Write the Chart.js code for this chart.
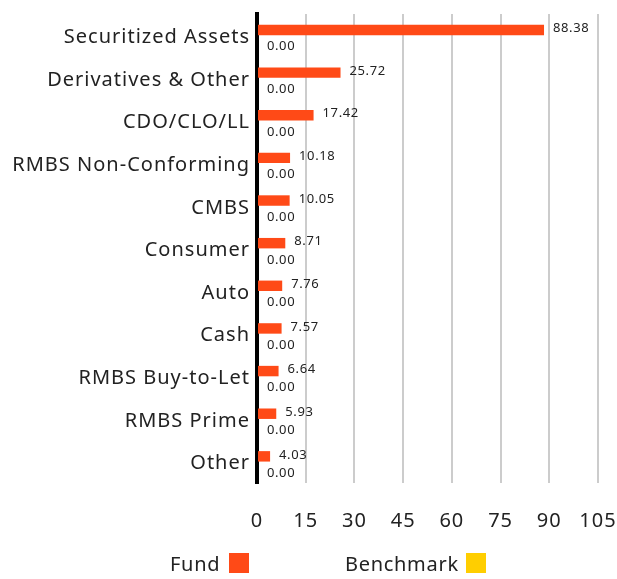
<!DOCTYPE html>
<html>
<head>
<meta charset="utf-8">
<script src="https://cdn.jsdelivr.net/npm/chart.js@4/dist/chart.umd.min.js"></script>
<style>
  html, body { margin: 0; padding: 0; background: #fff; }
  #wrap { position: relative; width: 617px; height: 579px; }
  #c { position: absolute; left: 0; top: 0; }
  .lg { position: absolute; font-family: "Noto Sans", sans-serif; font-size: 20px; letter-spacing: 0.7px; color: #222; line-height: 20px; white-space: nowrap; }
  .sw { position: absolute; width: 20px; height: 20px; }
</style>
</head>
<body>
<div id="wrap">
  <canvas id="c" width="617" height="579"></canvas>
  <div class="lg" id="lgFund" style="left:170px; top:554px;">Fund</div>
  <div class="sw" style="left:229px; top:553px; background:#FF4A17;"></div>
  <div class="lg" id="lgBench" style="left:345px; top:554px;">Benchmark</div>
  <div class="sw" style="left:466px; top:553px; background:#FFCE00;"></div>
</div>
<script>
const categories = ["Securitized Assets", "Derivatives & Other", "CDO/CLO/LL", "RMBS Non-Conforming", "CMBS", "Consumer", "Auto", "Cash", "RMBS Buy-to-Let", "RMBS Prime", "Other"];
const fundValues = [88.38, 25.72, 17.42, 10.18, 10.05, 8.71, 7.76, 7.57, 6.64, 5.93, 4.03];
const benchmarkValues = [0, 0, 0, 0, 0, 0, 0, 0, 0, 0, 0];
const xTicks = [0, 15, 30, 45, 60, 75, 90, 105];

const FONT = '"Noto Sans", sans-serif';

const spacingPlugin = {
  id: 'spacing',
  beforeDraw(chart) { chart.ctx.letterSpacing = '1px'; }
};

const labelPlugin = {
  id: 'valueLabels',
  afterDatasetsDraw(chart) {
    const ctx = chart.ctx;
    ctx.save();
    ctx.letterSpacing = '0.6px';
    ctx.font = '13px ' + FONT;
    ctx.fillStyle = '#222';
    ctx.textAlign = 'left';
    ctx.textBaseline = 'middle';
    chart.data.datasets.forEach((ds, di) => {
      const meta = chart.getDatasetMeta(di);
      meta.data.forEach((bar, i) => {
        const v = ds.data[i];
        const txt = v.toFixed(2);
        if (di === 0) {
          ctx.fillText(txt, bar.x + 9, bar.y - 1.5);
        } else {
          ctx.fillText(txt, bar.x + 10, bar.y + 6);
        }
      });
    });
    ctx.restore();
  }
};

new Chart(document.getElementById('c'), {
  type: 'bar',
  data: {
    labels: categories,
    datasets: [
      { label: 'Fund', data: fundValues, backgroundColor: '#FF4A17', categoryPercentage: 0.5, barPercentage: 0.98 },
      { label: 'Benchmark', data: benchmarkValues, backgroundColor: '#FFCE00', categoryPercentage: 0.5, barPercentage: 0.98 }
    ]
  },
  options: {
    indexAxis: 'y',
    responsive: false,
    animation: false,
    devicePixelRatio: 1,
    layout: { padding: { top: 14, bottom: 20, left: 0, right: 0 } },
    plugins: { legend: { display: false }, tooltip: { enabled: false } },
    scales: {
      x: {
        min: 0, max: 105,
        afterBuildTicks(axis) { axis.ticks = xTicks.map(v => ({ value: v })); },
        afterFit(axis) { axis.paddingRight = 19; axis.paddingLeft = 0; },
        grid: { color: '#cccccc', lineWidth: 2, drawTicks: false },
        border: { display: false },
        ticks: { font: { family: FONT, size: 20 }, color: '#222', padding: 26 }
      },
      y: {
        afterFit(axis) { axis.width = 257; axis.paddingTop = 0; axis.paddingBottom = 0; },
        grid: { display: false, drawTicks: false },
        border: { display: true, color: '#000', width: 4 },
        ticks: { font: { family: FONT, size: 20 }, color: '#222', padding: 7, labelOffset: 2 }
      }
    }
  },
  plugins: [spacingPlugin, labelPlugin]
});
</script>
</body>
</html>
